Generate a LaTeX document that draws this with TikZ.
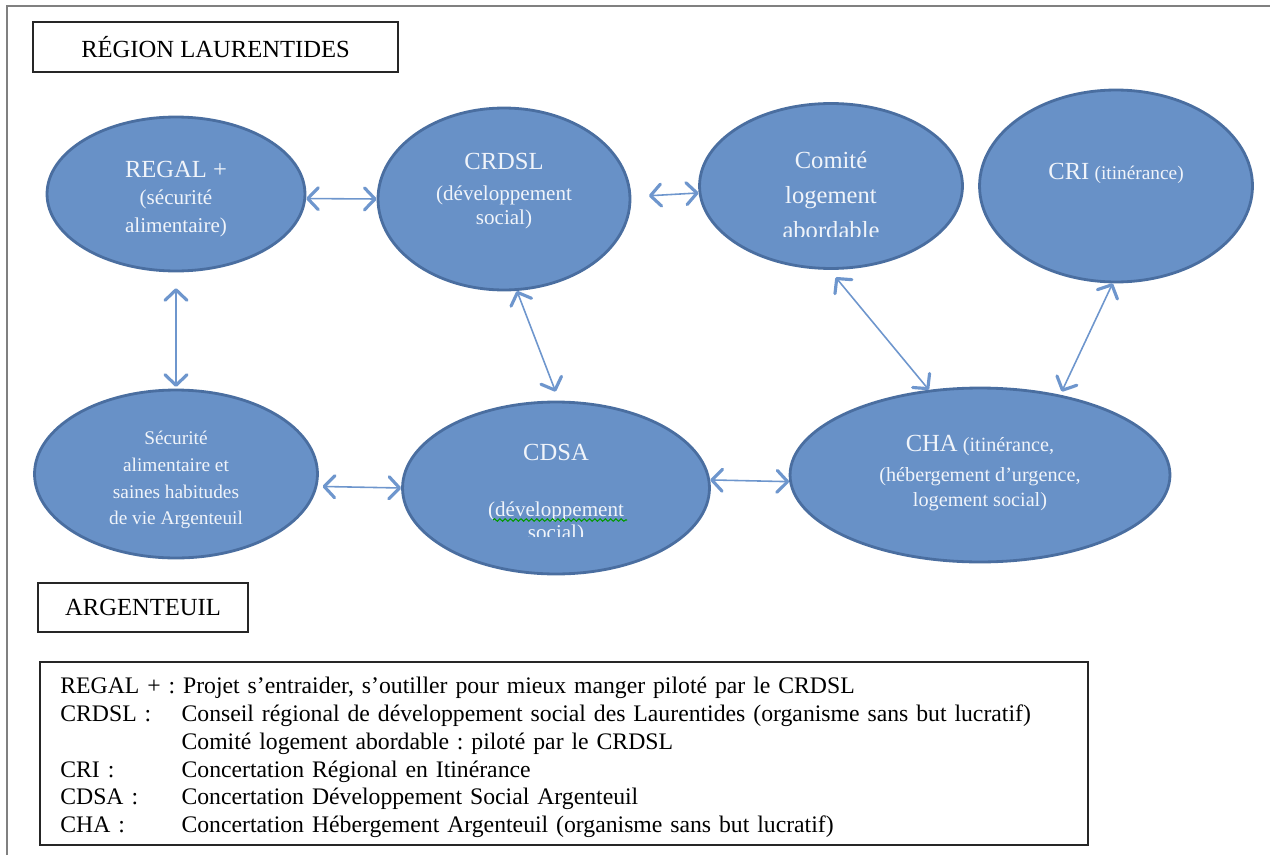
\documentclass[tikz,border=0pt]{standalone}
\usepackage{fontspec}
\setmainfont{Liberation Serif}
\usetikzlibrary{arrows.meta,shapes.geometric,decorations.pathmorphing}
\definecolor{orgfill}{HTML}{6891C7}
\definecolor{orgline}{HTML}{4A6EA0}
\definecolor{orgtext}{HTML}{F0F4FA}
\definecolor{linkcol}{HTML}{6E96CD}
\newcommand{\orgtitle}[1]{{\fontsize{14}{16}\selectfont #1}}

\begin{document}
\begin{tikzpicture}[x=0.02cm, y=-0.02cm,
    >={Straight Barb[length=6pt, width=12.5pt, line width=1.8pt, round]},
    org/.style={ellipse, draw=orgline, fill=orgfill, line width=1.6pt, inner sep=0pt},
    orgtxt/.style={text=orgtext, align=center, inner sep=0pt, font=\fontsize{12}{15.5}\selectfont},
    link/.style={draw=linkcol, line width=0.9pt, <->},
    titlebox/.style={draw=black!85, line width=0.8pt, inner sep=0pt, font=\fontsize{14}{16}\selectfont}]
    \useasboundingbox (0,0) rectangle (1270,855);
    \draw[gray, line width=1.2pt] (7,855) -- (7,6) -- (1270,6);

    \node[titlebox, minimum width=7.3cm, minimum height=1cm] (laurentides) at (215.5,47) {RÉGION LAURENTIDES};
    \node[titlebox, minimum width=4.2cm, minimum height=0.98cm] (argenteuil) at (143,607.5) {ARGENTEUIL};

    \node[org, minimum width=5.16cm, minimum height=3.08cm] (regal) at (176,194) {};
    \node[org, minimum width=5.04cm, minimum height=3.64cm] (crdsl) at (504,199) {};
    \node[org, minimum width=5.26cm, minimum height=3.3cm] (comite) at (831,186) {};
    \node[org, minimum width=5.46cm, minimum height=3.84cm] (cri) at (1116,186) {};
    \node[org, minimum width=5.66cm, minimum height=3.36cm] (secu) at (176,474) {};
    \node[org, minimum width=6.14cm, minimum height=3.44cm] (cdsa) at (556,488) {};
    \node[org, minimum width=7.6cm, minimum height=3.48cm] (cha) at (980,475) {};

    \node[orgtxt] (regal-t) at (176,199) {\orgtitle{REGAL +}\\(sécurité\\alimentaire)};
    \node[orgtxt] (crdsl-t) at (504,191) {\orgtitle{CRDSL}\\[2pt](développement\\[-2pt]social)};
    \begin{scope}
        \clip (690,90) rectangle (975,236);
        \node[orgtxt, font=\fontsize{14}{20}\selectfont] (comite-t) at (831,195) {Comité\\logement\\abordable};
    \end{scope}
    \node[orgtxt] (cri-t) at (1116,173) {\orgtitle{CRI} {\fontsize{11}{14}\selectfont(itinérance)}};
    \node[orgtxt, font=\fontsize{11}{15.3}\selectfont] (secu-t) at (176,480) {Sécurité\\alimentaire et\\saines habitudes\\de vie Argenteuil};
    \node[orgtxt] (cdsa-t) at (556,452) {\orgtitle{CDSA}};
    \begin{scope}
        \clip (400,495) rectangle (715,536);
        \node[orgtxt] (cdsa-s) at (556,523) {(développement\\[-2pt]social)};
    \end{scope}
    \draw[green!60!black, line width=0.6pt, decorate, decoration={snake, amplitude=0.7pt, segment length=3pt}] (493,520) -- (627,520);
    \node[orgtxt, font=\fontsize{11.5}{15.5}\selectfont] (cha-t) at (980,473) {\orgtitle{CHA} (itinérance,\\[1.5pt](hébergement d'urgence,\\[-1.5pt]logement social)};

    \draw[link] (regal.-2) -- (crdsl.180);
    \draw[link, shorten <=10pt] (crdsl.1) -- (comite.183);
    \draw[link, shorten <=9pt, shorten >=1pt] (regal.south) -- (secu.north);
    \draw[link, shorten >=5.5pt] (crdsl.-82) -- (cdsa.88);
    \draw[link, shorten <=5.5pt] (comite.-91) -- (cha.121);
    \draw[link, shorten >=2pt] (cri.-92) -- (cha.45);
    \draw[link, shorten <=3pt] (secu.-5) -- (cdsa.180);
    \draw[link] (cdsa.3) -- (cha.182);

    \draw[black!85, line width=0.8pt] (40,662) rectangle (1088,845);
    \node[anchor=north west, inner sep=0pt, align=left, text width=20cm, font=\fontsize{13.5}{15.8}\selectfont\frenchspacing] (legend) at (60,677) {
        REGAL + : Projet s'entraider, s'outiller pour mieux manger piloté par le CRDSL\\
        \makebox[69pt][l]{CRDSL :}Conseil régional de développement social des Laurentides (organisme sans but lucratif)\\
        \makebox[69pt][l]{}Comité logement abordable : piloté par le CRDSL\\
        \makebox[69pt][l]{CRI :}Concertation Régional en Itinérance\\
        \makebox[69pt][l]{CDSA :}Concertation Développement Social Argenteuil\\
        \makebox[69pt][l]{CHA :}Concertation Hébergement Argenteuil (organisme sans but lucratif)};
\end{tikzpicture}
\end{document}
